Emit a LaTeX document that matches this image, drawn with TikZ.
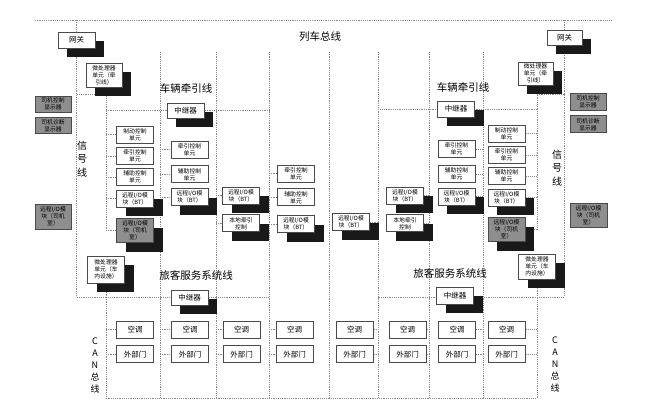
\documentclass[tikz,border=0pt]{standalone}
\usepackage{fontspec}
\setmainfont{Noto Sans CJK SC}
\usetikzlibrary{positioning,shadows,backgrounds}
\definecolor{busgray}{HTML}{8A8A8A}
\definecolor{boxgray}{HTML}{8E8E8E}
\definecolor{edge}{HTML}{4A4A4A}

\begin{document}
\begin{tikzpicture}[x=1pt,y=-1pt,
    unit/.style={draw=edge,fill=white,line width=0.8pt,inner sep=0pt,align=center,minimum width=37pt,minimum height=17pt,font=\fontsize{5.8}{7}\selectfont},
    cab/.style={unit,fill=boxgray},
    big/.style={unit,font=\fontsize{7.5}{9}\selectfont},
    shd/.style={drop shadow={shadow xshift=9pt,shadow yshift=-9pt,fill=black!90,opacity=1}},
    bus/.style={draw=busgray,line width=0.5pt,dash pattern=on 1.2pt off 1pt},
    lbl/.style={font=\fontsize{10.5}{12}\selectfont},
    vlbl/.style={align=center,font=\fontsize{10}{13.5}\selectfont}]
  \useasboundingbox (0,0) rectangle (664,400);
  % titles
  \node[lbl] (title) at (320,37) {列车总线};
  \node[lbl] (trcL) at (186,88) {车辆牵引线};
  \node[lbl] (trcR) at (463,87) {车辆牵引线};
  \node[lbl] (pasL) at (196,275) {旅客服务系统线};
  \node[lbl] (pasR) at (450,273) {旅客服务系统线};
  \node[vlbl] (sigL) at (82,159) {信\\号\\线};
  \node[vlbl] (sigR) at (557,168) {信\\号\\线};
  \node[vlbl,font=\fontsize{9}{12}\selectfont] (canL) at (95,365) {C\\A\\N\\总\\线};
  \node[vlbl,font=\fontsize{9}{12}\selectfont] (canR) at (555,364) {C\\A\\N\\总\\线};

  % left cab
  \node[big,shd,minimum height=16pt] (gwL) at (76.5,40) {网关};
  \node[unit,shd,minimum width=36pt,minimum height=24pt] (mpL1) at (104,75) {微处理器\\单元（牵\\引线）};
  \node[cab,minimum width=36pt,minimum height=16pt] (dpL1) at (53,104) {司机控制\\显示器};
  \node[cab,minimum width=36pt,minimum height=16pt,below=5pt of dpL1] (dpL2) {司机诊断\\显示器};
  \node[cab,minimum width=36pt,minimum height=25pt] (ioL) at (53,216.5) {远程I/O模\\块（司机\\室）};
  \node[unit] (aL1) at (135,134.5) {制动控制\\单元};
  \node[unit,below=3.5pt of aL1] (aL2) {牵引控制\\单元};
  \node[unit,below=3.5pt of aL2] (aL3) {辅助控制\\单元};
  \node[unit,shd,below=3.5pt of aL3] (aL4) {远程I/O模\\块（BT）};
  \node[cab,shd,minimum height=24pt,below=11pt of aL4] (aL5) {远程I/O模\\块（司机\\室）};
  \node[big,shd,minimum height=15pt] (relL1) at (185.5,110.5) {中继器};
  \node[unit] (bL1) at (189.5,149.5) {牵引控制\\单元};
  \node[unit,below=7pt of bL1] (bL2) {辅助控制\\单元};
  \node[unit,shd,below=5pt of bL2] (bL3) {远程I/O模\\块（BT）};
  \node[unit,shd] (cL1) at (241,195.5) {远程I/O模\\块（BT）};
  \node[unit,shd,below=10pt of cL1] (cL2) {本地牵引\\控制};
  \node[unit] (dL1) at (296,173.5) {牵引控制\\单元};
  \node[unit,below=6pt of dL1] (dL2) {辅助控制\\单元};
  \node[unit,shd,below=9pt of dL2] (dL3) {远程I/O模\\块（BT）};
  \node[unit,shd,minimum height=27pt] (mpL2) at (106,269.5) {微处理器\\单元（车\\内设施）};
  \node[big,shd,minimum height=15pt] (relL2) at (189.5,297.5) {中继器};

  % right cab
  \node[big,shd,minimum width=35pt,minimum height=15pt] (gwR) at (564.5,37.5) {网关};
  \node[unit,shd,minimum width=35pt,minimum height=23pt] (mpR1) at (535.5,73.5) {微处理器\\单元（牵\\引线）};
  \node[cab,minimum width=36pt,minimum height=17pt] (dpR1) at (588,101.5) {司机控制\\显示器};
  \node[cab,minimum width=36pt,minimum height=17pt,below=5pt of dpR1] (dpR2) {司机诊断\\显示器};
  \node[cab,minimum height=24pt] (ioR) at (588.5,215) {远程I/O模\\块（司机\\室）};
  \node[unit] (aR1) at (506.5,133.5) {制动控制\\单元};
  \node[unit,below=3.5pt of aR1] (aR2) {牵引控制\\单元};
  \node[unit,below=3.5pt of aR2] (aR3) {辅助控制\\单元};
  \node[unit,shd,below=3.5pt of aR3] (aR4) {远程I/O模\\块（BT）};
  \node[cab,shd,minimum height=24pt,below=11pt of aR4] (aR5) {远程I/O模\\块（司机\\室）};
  \node[big,shd,minimum height=16pt] (relR1) at (456,109) {中继器};
  \node[unit] (bR1) at (456.5,149) {牵引控制\\单元};
  \node[unit,below=7pt of bR1] (bR2) {辅助控制\\单元};
  \node[unit,shd,below=5pt of bR2] (bR3) {远程I/O模\\块（BT）};
  \node[unit,shd] (cR1) at (405,195.5) {远程I/O模\\块（BT）};
  \node[unit,shd,below=10pt of cR1] (cR2) {本地牵引\\控制};
  \node[unit,shd] (dR1) at (351,222) {远程I/O模\\块（BT）};
  \node[unit,shd,minimum height=25pt] (mpR2) at (537,266.5) {微处理器\\单元（车\\内设施）};
  \node[big,shd,minimum height=17pt] (relR2) at (455,295.5) {中继器};

  % CAN units
  \foreach \x/\n in {135/1,190/2,241.5/3,294.5/4,354.5/5,407.5/6,457/7,506.5/8} {
    \node[big] (ac\n) at (\x,329.5) {空调};
    \node[big,below=7pt of ac\n] (dr\n) {外部门};
  }

  \begin{scope}[on background layer]
    \fill[white] (0,0) rectangle (664,400);
    \coordinate (tbW) at (35,20);
    \coordinate (tbE) at (612,20);
    \coordinate (trL0) at (106,94);
    \coordinate (trR0) at (537,94);
    \coordinate (psL) at (269,297);
    \coordinate (psR) at (378,297);
    \coordinate (cnL) at (106,297);
    \coordinate (cnR) at (537,297);
    \draw[bus] (tbW) -- (tbE);
    \foreach \x/\n in {160/1,216/2,269/3,329/4,378/5,429/6,483/7} {
      \coordinate (cv\n) at (\x,52);
      \draw[bus] (cv\n) -- ++(0,346);
    }
    % signal and passenger lines
    \draw[bus] (gwL |- tbW) -- (gwL |- psL) -- (psL);
    \draw[bus] (gwR |- tbE) -- (gwR |- psR) -- (psR);
    \draw[bus] (mpL2) -- (mpL2 |- psL);
    \draw[bus] (mpR2) -- (mpR2 |- psR);
    % traction lines
    \draw[bus] (gwL |- trL0) -- (trL0) -- (trL0 |- aL5);
    \draw[bus] (trL0 |- relL1) -- (relL1 -| cv3);
    \draw[bus] (gwR |- trR0) -- (trR0) -- (trR0 |- aR5);
    \draw[bus] (trR0 |- relR1) -- (relR1 -| cv5);
    \foreach \n in {1,...,5} {
      \draw[bus] (aL\n.west -| trL0) -- (aL\n.west);
      \draw[bus] (aR\n.east) -- (aR\n.east -| trR0);
    }
    \foreach \n in {1,2,3} {
      \draw[bus] (bL\n.west -| cv1) -- (bL\n.west);
      \draw[bus] (dL\n.west -| cv3) -- (dL\n.west);
      \draw[bus] (bR\n.east) -- (bR\n.east -| cv7);
    }
    \foreach \n in {1,2} {
      \draw[bus] (cL\n.west -| cv2) -- (cL\n.west);
      \draw[bus] (cR\n.east) -- (cR\n.east -| cv6);
    }
    \draw[bus] (dR1.east) -- (dR1.east -| cv5);
    % CAN bus
    \draw[bus] (cnL) -- (cnL |- 0,398) -- (cnR |- 0,398) -- (cnR);
    \foreach \n/\v in {1/cnL,2/cv1,3/cv2,4/cv3} {
      \draw[bus] (ac\n.west -| \v) -- (ac\n.west);
      \draw[bus] (dr\n.west -| \v) -- (dr\n.west);
    }
    \foreach \n/\v in {5/cv5,6/cv6,7/cv7,8/cnR} {
      \draw[bus] (ac\n.east) -- (ac\n.east -| \v);
      \draw[bus] (dr\n.east) -- (dr\n.east -| \v);
    }
  \end{scope}
\end{tikzpicture}
\end{document}
